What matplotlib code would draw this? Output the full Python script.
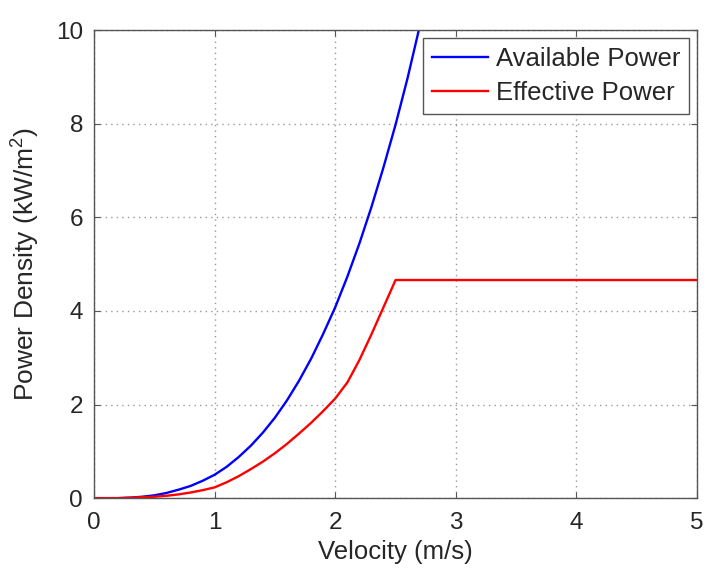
import numpy as np
import matplotlib
matplotlib.use("Agg")
import matplotlib.pyplot as plt

plt.rcParams['font.family'] = ['Liberation Sans', 'DejaVu Sans']
plt.rcParams['mathtext.fontset'] = 'custom'
plt.rcParams['mathtext.rm'] = 'Liberation Sans'

# velocity samples (m/s)
velocity_avail = [0.0, 0.1, 0.2, 0.3, 0.4, 0.5, 0.6, 0.7, 0.8, 0.9, 1.0, 1.1, 1.2, 1.3,
                  1.4, 1.5, 1.6, 1.7, 1.8, 1.9, 2.0, 2.1, 2.2, 2.3, 2.4, 2.5, 2.6, 2.7]
available_power = [0.0, 0.0, 0.0, 0.01, 0.03, 0.06, 0.11, 0.18, 0.26, 0.37, 0.50, 0.67, 0.88, 1.12,
                   1.40, 1.72, 2.09, 2.51, 2.98, 3.51, 4.08, 4.73, 5.44, 6.22, 7.07, 7.98, 8.98, 10.08]

velocity_eff = [0.0, 0.1, 0.2, 0.3, 0.4, 0.5, 0.6, 0.7, 0.8, 0.9, 1.0, 1.1, 1.2, 1.3,
                1.4, 1.5, 1.6, 1.7, 1.8, 1.9, 2.0, 2.1, 2.2, 2.3, 2.4, 2.5, 5.0]
effective_power = [0.0, 0.0, 0.0, 0.01, 0.02, 0.03, 0.05, 0.08, 0.12, 0.17, 0.23, 0.34, 0.47, 0.62,
                   0.78, 0.96, 1.16, 1.38, 1.61, 1.86, 2.13, 2.47, 2.95, 3.50, 4.08, 4.66, 4.66]

x_ticks = [0, 1, 2, 3, 4, 5]
y_ticks = [0, 2, 4, 6, 8, 10]

text_col = '#262626'
frame_col = '#555555'

fig = plt.figure(figsize=(7.07, 5.68), dpi=100)
ax = fig.add_axes([0.133, 0.123, 0.853, 0.824])

ax.plot(velocity_avail, available_power, color=(0, 0, 1), lw=1.7, label='Available Power')
ax.plot(velocity_eff, effective_power, color=(1, 0, 0), lw=1.7, label='Effective Power')

ax.set_xlim(0, 5)
ax.set_ylim(0, 10)
ax.set_xticks(x_ticks)
ax.set_yticks(y_ticks)
ax.tick_params(direction='in', top=True, right=True, labelsize=17.5, colors=frame_col,
               labelcolor=text_col, length=4)
ax.tick_params(axis='x', pad=10)
ax.tick_params(axis='y', pad=8)
for sp in ax.spines.values():
    sp.set_color(frame_col)
    sp.set_linewidth(1.0)
ax.grid(True, linestyle=(0, (1, 3)), color='#999999', linewidth=1.0)

ax.set_xlabel('Velocity (m/s)', fontsize=18.5, color=text_col, labelpad=4)
ax.set_ylabel(r'Power Density (kW/m$^\mathregular{2}$)', fontsize=19, color=text_col, labelpad=11)

leg = ax.legend(loc='upper right', fontsize=18.5, fancybox=False, framealpha=1,
                edgecolor=frame_col, handlelength=2.2, handletextpad=0.3,
                labelspacing=0.4, borderpad=0.35, borderaxespad=0.3)
for t in leg.get_texts():
    t.set_color(text_col)

fig.savefig('out.png', dpi=100)
